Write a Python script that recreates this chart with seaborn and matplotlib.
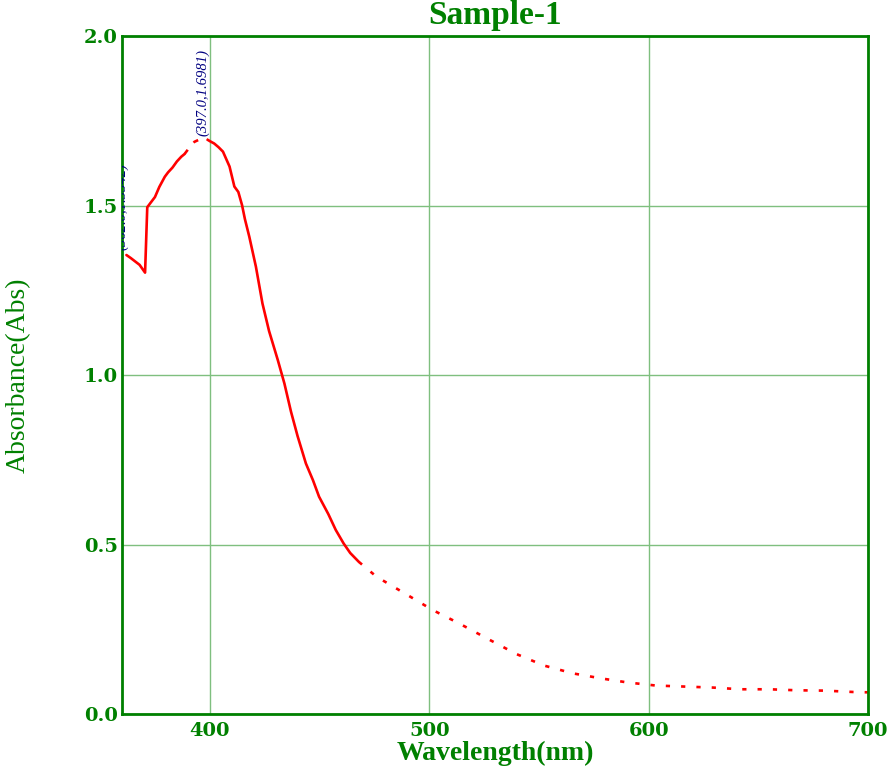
import matplotlib
matplotlib.use("Agg")
import matplotlib.pyplot as plt
import seaborn as sns

# 曲线数据
wl_head = [362, 364, 366, 368, 370.5, 371.5, 373, 375, 377, 379.5, 381, 383, 385, 387, 388.5]
abs_head = [1.354, 1.345, 1.335, 1.325, 1.302, 1.495, 1.508, 1.525, 1.555, 1.585, 1.598, 1.612, 1.630, 1.644, 1.652]

wl_peak = [388.5, 390, 393, 395, 397, 399]
abs_peak = [1.652, 1.665, 1.688, 1.694, 1.698, 1.694]

wl_fall = [399, 400, 402, 404, 406, 409, 411.2, 413, 414.7, 416, 418, 421, 424, 427, 431, 434, 437,
           440, 443.8, 447, 449.8, 454, 457.4, 461, 464, 467.9]
abs_fall = [1.694, 1.690, 1.683, 1.672, 1.659, 1.615, 1.556, 1.540, 1.501, 1.460, 1.408, 1.320, 1.211,
            1.130, 1.044, 0.975, 0.892, 0.820, 0.739, 0.690, 0.641, 0.590, 0.543, 0.503, 0.475, 0.449]

wl_tail = [467.9, 476, 488.8, 501.5, 513.7, 526.9, 539.7, 552.3, 565.4, 578.4, 590.5, 603.3, 616.3,
           629.4, 641.8, 655, 667.5, 680.3, 693.2, 700]
abs_tail = [0.449, 0.405, 0.356, 0.307, 0.267, 0.221, 0.177, 0.143, 0.120, 0.105, 0.093, 0.084, 0.081,
            0.078, 0.073, 0.073, 0.070, 0.069, 0.065, 0.064]

x_ticks = [400, 500, 600, 700]
y_ticks = [0.0, 0.5, 1.0, 1.5, 2.0]

GREEN = "#008000"
RED = "#ff0000"

sns.set_style("white")
plt.rcParams['font.family'] = ['Liberation Serif', 'DejaVu Serif']

fig = plt.figure(figsize=(8.94, 7.70), dpi=100)
ax = fig.add_axes([0.1365, 0.0727, 0.971 - 0.1365, 0.9532 - 0.0727])

solid = dict(color=RED, linewidth=1.9, ax=ax, legend=False)
sns.lineplot(x=wl_head, y=abs_head, **solid)
sns.lineplot(x=wl_fall, y=abs_fall, **solid)
sns.lineplot(x=wl_peak, y=abs_peak, dashes=False, linestyle=(0, (2.0, 3.5)), **solid)
sns.lineplot(x=wl_tail, y=abs_tail, dashes=False, linestyle=(0, (1.6, 4.2)), **solid)

ax.set_xlim(360, 700)
ax.set_ylim(0, 2.0)
ax.set_xticks(x_ticks)
ax.set_yticks(y_ticks)
ax.set_xticklabels([str(v) for v in x_ticks])
ax.set_yticklabels([f"{v:.1f}" for v in y_ticks])
ax.grid(True, color="#7fbf7f", linewidth=1.0)
ax.tick_params(axis='both', length=0, colors=GREEN)
ax.tick_params(axis='x', pad=6)
ax.tick_params(axis='y', pad=3)
for lab in ax.get_xticklabels() + ax.get_yticklabels():
    lab.set_fontfamily('DejaVu Serif')
    lab.set_fontweight('bold')
    lab.set_fontsize(14)
for s in ax.spines.values():
    s.set_color(GREEN)
    s.set_linewidth(2)

ax.set_title("Sample-1", color=GREEN, fontsize=24, fontweight='bold', pad=9)
ax.set_xlabel("Wavelength(nm)", color=GREEN, fontsize=20, fontweight='bold')
ax.xaxis.label.set_va('center')
ax.xaxis.set_label_coords(0.5, -0.058)
ax.set_ylabel("Absorbance(Abs)", color=GREEN, fontsize=20, labelpad=38)

# 峰值标注
ax.text(397, 1.705, "(397.0,1.6981)", rotation=90, ha='center', va='bottom',
        color="#000080", fontsize=10.5, style='italic')
ax.text(360, 1.37, "(362.0,1.3542)", rotation=90, ha='center', va='bottom',
        color="#000080", fontsize=10.5, style='italic', clip_on=True)

fig.savefig("out.png", dpi=100)
